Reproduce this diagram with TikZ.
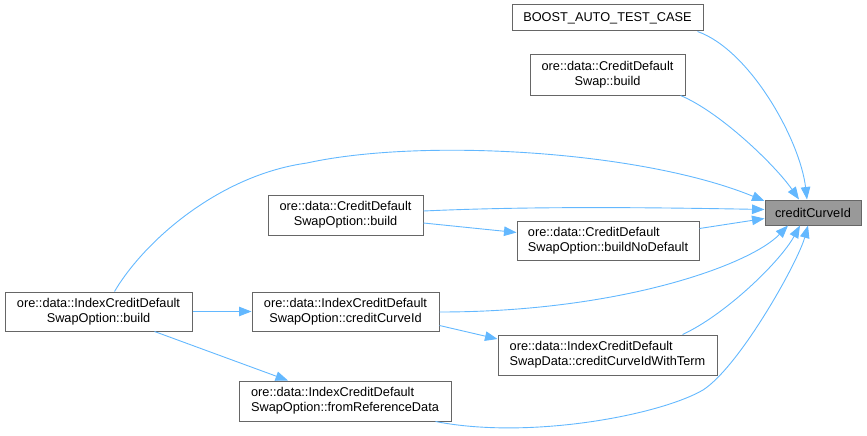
\documentclass[tikz,border=0pt]{standalone}
\usepackage{fontspec}
\setmainfont{Liberation Sans}
\usetikzlibrary{arrows.meta}

\definecolor{edgeblue}{HTML}{63B8FF}
\definecolor{boxgray}{HTML}{666666}
\definecolor{curfill}{HTML}{999999}

\tikzset{
    fn/.style={draw=boxgray, line width=1pt, fill=white, inner sep=0pt, align=center,
        font=\fontsize{12.75}{15}\selectfont},
    caller/.style={draw=edgeblue, line width=0.9pt, -{Triangle[length=12.5pt,width=9.5pt]}}
}

\begin{document}
\begin{tikzpicture}[x=1pt, y=-1pt]
        \useasboundingbox (0,0) rectangle (867,436);

        \node[fn, fill=curfill, minimum width=96pt, minimum height=25pt] (cci) at (813,212.5) {creditCurveId};
        \node[fn, minimum width=191pt, minimum height=26pt] (boost) at (607.5,18) {BOOST\_AUTO\_TEST\_CASE};
        \node[fn, minimum width=155pt, minimum height=40pt] (cdsbuild) at (607.5,75) {ore::data::CreditDefault\\Swap::build};
        \node[fn, minimum width=155pt, minimum height=40pt] (cdsobuild) at (345.5,215) {ore::data::CreditDefault\\SwapOption::build};
        \node[fn, align=left, minimum width=182pt, minimum height=39pt] (nodefault) at (608,240.5) {ore::data::CreditDefault\\SwapOption::buildNoDefault};
        \node[fn, minimum width=187pt, minimum height=39pt] (icdsobuild) at (98.5,311.5) {ore::data::IndexCreditDefault\\SwapOption::build};
        \node[fn, minimum width=187pt, minimum height=39pt] (icdsocci) at (345.5,311.5) {ore::data::IndexCreditDefault\\SwapOption::creditCurveId};
        \node[fn, align=left, minimum width=219pt, minimum height=40pt] (withterm) at (607.5,355) {ore::data::IndexCreditDefault\\SwapData::creditCurveIdWithTerm};
        \node[fn, align=left, minimum width=212pt, minimum height=40pt] (fromref) at (345,401) {ore::data::IndexCreditDefault\\SwapOption::fromReferenceData};

        % callers of creditCurveId
        \draw [caller] ([xshift=-6pt]boost.south east) .. controls (750,50) and (800,140) .. ([xshift=-6pt]cci.north);
        \draw [caller] ([xshift=-5pt]cdsbuild.south east) .. controls (720,112) and (775,165) .. ([xshift=-14pt]cci.north);
        \draw [caller] ([xshift=16pt]icdsobuild.north) .. controls (145,240) and (220,175) .. (307,163)
            .. controls (420,138) and (640,150) .. ([yshift=-1.5pt]cci.north west);
        \draw [caller] ([yshift=4pt]cdsobuild.east) .. controls +(110,-5) and +(-110,-2) .. ([yshift=3pt]cci.west);
        \draw [caller] ([yshift=12pt]nodefault.east) -- ([yshift=-6pt]cci.west);
        \draw [caller] ([yshift=-0.5pt]icdsocci.east) .. controls (620,312) and (750,265) .. ([xshift=-25pt]cci.south);
        \draw [caller] ([xshift=-35pt]withterm.north east) .. controls (725,315) and (780,262) .. ([xshift=-13pt]cci.south);
        \draw [caller] ([xshift=-16pt]fromref.south east) .. controls (530,440) and (660,415) .. (703,390)
            .. controls (740,366) and (798,262) .. ([xshift=-5pt]cci.south);

        % calls between the others
        \draw [caller] ([yshift=-8pt]cdsobuild.east) -- ([yshift=8pt]nodefault.west);
        \draw [caller] (icdsobuild) -- (icdsocci);
        \draw [caller] ([yshift=-14pt]icdsocci.east) -- ([yshift=16pt]withterm.west);
        \draw [caller] ([xshift=56pt]icdsobuild.south) -- ([xshift=-57pt]fromref.north);

    \end{tikzpicture}
\end{document}
